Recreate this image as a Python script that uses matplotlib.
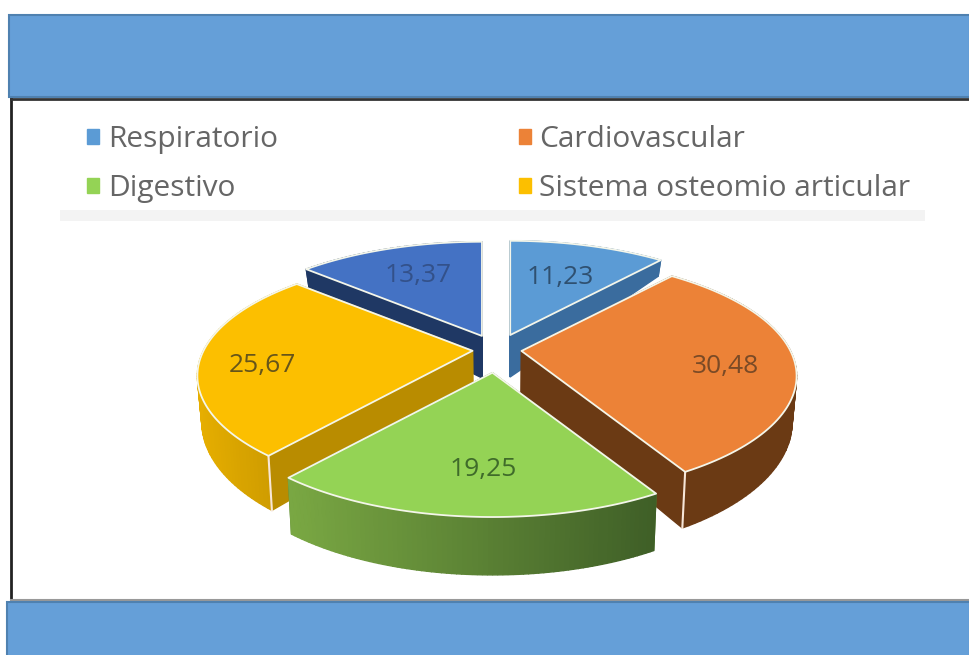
import numpy as np
import matplotlib
matplotlib.use('Agg')
import matplotlib.pyplot as plt
from matplotlib.patches import Patch, Rectangle
from matplotlib.colors import to_rgb

# Chart data
values = [11.23, 30.48, 19.25, 25.67, 13.37]
value_labels = ['11,23', '30,48', '19,25', '25,67', '13,37']
legend_labels = ['Respiratorio', 'Cardiovascular', 'Digestivo', 'Sistema osteomio articular']

# Slice styles
top_colors = ['#5b9bd5', '#ec8237', '#94d355', '#fcbf00', '#4472c4']
edge_wall_colors = ['#3a6c9e', '#6b3a14', '#55802f', '#b98c00', '#1f3864']
arc_left_colors = ['#3a6c9e', '#6b3a14', '#7aa843', '#e6ae00', '#1f3864']
arc_right_colors = ['#3a6c9e', '#6b3a14', '#3f5f27', '#c79600', '#1f3864']
explode = [0.14, 0.09, 0.20, 0.09, 0.135]
label_radius = [0.60, 0.75, 0.72, 0.77, 0.65]
label_turn = [0, 5, -2.5, -5, 0]
label_colors = ['#2f5070', '#7a4a26', '#3f6b2a', '#66551a', '#33518a']
draw_order = [0, 4, 3, 1, 2]

CENTER_X = 497
CENTER_Y = 350
RADIUS_X = 269
RADIUS_Y = 114
TILT = 0.21
BLUE = '#659fd8'


def project(theta, r, apex):
    # theta is clockwise from the top of the pie, in radians
    u = r * np.sin(theta)
    v = r * np.cos(theta)
    w = 1 + TILT * v
    return apex[0] + RADIUS_X * u / w, apex[1] - RADIUS_Y * v / w


def drop(x, y):
    # Bottom of the side wall under a point of the top face
    depth = np.interp(y, [260, 335, 470, 520], [16, 42, 56, 58])
    return CENTER_X + (x - CENTER_X) * 0.985, y + depth


def wall(ax, x, y, color):
    bx, by = drop(x, y)
    ax.fill(np.r_[x, bx[::-1]], np.r_[y, by[::-1]], color=color, lw=1, zorder=3)


fig = plt.figure(figsize=(9.7, 6.55), dpi=100)
ax = fig.add_axes([0, 0, 1, 1])
ax.set_xlim(0, 970)
ax.set_ylim(655, 0)
ax.axis('off')

# Frame and the two blue bands
ax.plot([11, 11], [97, 602], color='#222222', lw=2, zorder=1)
ax.plot([11, 970], [99, 99], color='#333333', lw=2, zorder=1)
ax.plot([11, 970], [600, 600], color='#999999', lw=1.5, zorder=1)
ax.add_patch(Rectangle((9, 15), 961, 82, fc=BLUE, ec='#4f81b0', lw=1.5, zorder=2))
ax.add_patch(Rectangle((7, 602), 963, 60, fc=BLUE, ec='#4f81b0', lw=1.5, zorder=2))
ax.add_patch(Rectangle((60, 210), 865, 11, fc='#f3f3f3', ec='none', zorder=1))

# Slices, back to front
fractions = np.array(values) / sum(values)
ends = np.cumsum(fractions) * 2 * np.pi
starts = ends - fractions * 2 * np.pi
mids = (starts + ends) / 2

for i in draw_order:
    apex = (CENTER_X + 273 * explode[i] * np.sin(mids[i]),
            CENTER_Y - RADIUS_Y * explode[i] * np.cos(mids[i]))
    arc = np.linspace(starts[i], ends[i], 80)
    arc_x, arc_y = project(arc, 1.0, apex)
    radial = np.linspace(0, 1, 20)

    # Straight walls
    for edge in (starts[i], ends[i]):
        ex, ey = project(edge, radial, apex)
        wall(ax, ex, ey, edge_wall_colors[i])

    # Curved wall, shaded from left to right
    left = np.array(to_rgb(arc_left_colors[i]))
    right = np.array(to_rgb(arc_right_colors[i]))
    for j in range(len(arc) - 1):
        t = (arc_x[j] - arc_x.min()) / (arc_x.max() - arc_x.min())
        wall(ax, arc_x[j:j + 2], arc_y[j:j + 2], left + (right - left) * t)

    # Corner lines on the two front slices
    corner = {1: ends[1], 3: starts[3]}
    if i in corner:
        cx, cy = project(corner[i], 1.0, apex)
        bx, by = drop(cx, cy)
        ax.plot([cx, bx], [cy, by], color='#f7e6d8', lw=1.5, zorder=3)

    # Top face
    top_x = np.r_[apex[0], arc_x]
    top_y = np.r_[apex[1], arc_y]
    ax.fill(top_x, top_y, facecolor=top_colors[i], edgecolor='#f4f6ea', lw=1.3,
            joinstyle='round', zorder=3)

    # Value label
    lx, ly = project(mids[i] + np.radians(label_turn[i]), label_radius[i], apex)
    ax.text(lx, ly, value_labels[i], color=label_colors[i], fontsize=19,
            family='Open Sans', ha='center', va='center', zorder=4)

# Legend, filled column by column
handles = [Patch(color=top_colors[k], label=legend_labels[k]) for k in [0, 2, 1, 3]]
leg = ax.legend(handles=handles, ncol=2, frameon=False, loc='upper left',
                bbox_to_anchor=(0.0897, 0.809), handlelength=0.4, handleheight=0.4,
                handletextpad=0.3, columnspacing=8.06, labelspacing=0.67, borderpad=0,
                borderaxespad=0, prop={'family': 'Open Sans', 'size': 21.5})
for text in leg.get_texts():
    text.set_color('#666666')

fig.savefig('out.png', dpi=100)
plt.close(fig)
